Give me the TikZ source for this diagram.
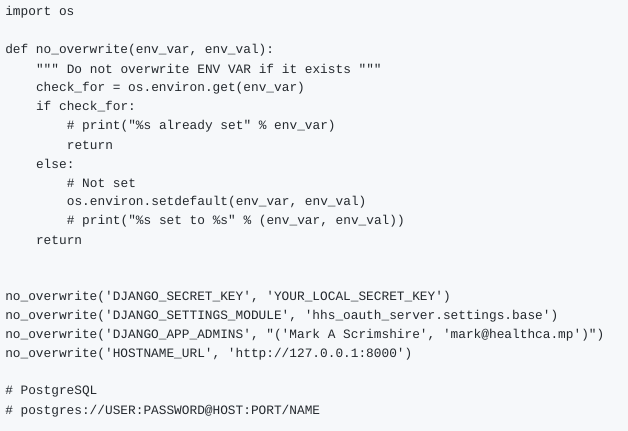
\documentclass[tikz,border=0pt]{standalone}
\usepackage{fontspec}
\setmonofont{Liberation Mono}
\usepackage{xcolor}
\definecolor{codebg}{HTML}{F6F8FA}
\definecolor{codefg}{HTML}{24292E}
\tikzset{codeline/.style={anchor=west, inner sep=0pt, text=codefg, font=\ttfamily\fontsize{9.6}{11}\selectfont}}
\begin{document}
\begin{tikzpicture}[x=0.75pt, y=-0.75pt]
      \def\ind{30.8}
      \fill [codebg] (0,0) rectangle (628,431);
      \node [codeline] (imp) at (5,12) {import os};
      \node [codeline] (def) at (5,50) {def no\_overwrite(env\_var, env\_val):};
      \node [codeline] (doc) at (5+\ind,69) {""" Do not overwrite ENV VAR if it exists """};
      \node [codeline] (chk) at (5+\ind,88) {check\_for = os.environ.get(env\_var)};
      \node [codeline] (if) at (5+\ind,107) {if check\_for:};
      \node [codeline] (pr1) at (5+2*\ind,126) {\# print("\%s already set" \% env\_var)};
      \node [codeline] (ret1) at (5+2*\ind,145) {return};
      \node [codeline] (else) at (5+\ind,164) {else:};
      \node [codeline] (nset) at (5+2*\ind,183) {\# Not set};
      \node [codeline] (setd) at (5+2*\ind,202) {os.environ.setdefault(env\_var, env\_val)};
      \node [codeline] (pr2) at (5+2*\ind,221) {\# print("\%s set to \%s" \% (env\_var, env\_val))};
      \node [codeline] (ret2) at (5+\ind,240) {return};
      \node [codeline] (key) at (5,297) {no\_overwrite('DJANGO\_SECRET\_KEY', 'YOUR\_LOCAL\_SECRET\_KEY')};
      \node [codeline] (mod) at (5,316) {no\_overwrite('DJANGO\_SETTINGS\_MODULE', 'hhs\_oauth\_server.settings.base')};
      \node [codeline] (adm) at (5,335) {no\_overwrite('DJANGO\_APP\_ADMINS', "('Mark A Scrimshire', 'mark@healthca.mp')")};
      \node [codeline] (url) at (5,354) {no\_overwrite('HOSTNAME\_URL', 'http://127.0.0.1:8000')};
      \node [codeline] (pg) at (5,392) {\# PostgreSQL};
      \node [codeline] (pgurl) at (5,411) {\# postgres://USER:PASSWORD@HOST:PORT/NAME};
    \end{tikzpicture}
\end{document}
